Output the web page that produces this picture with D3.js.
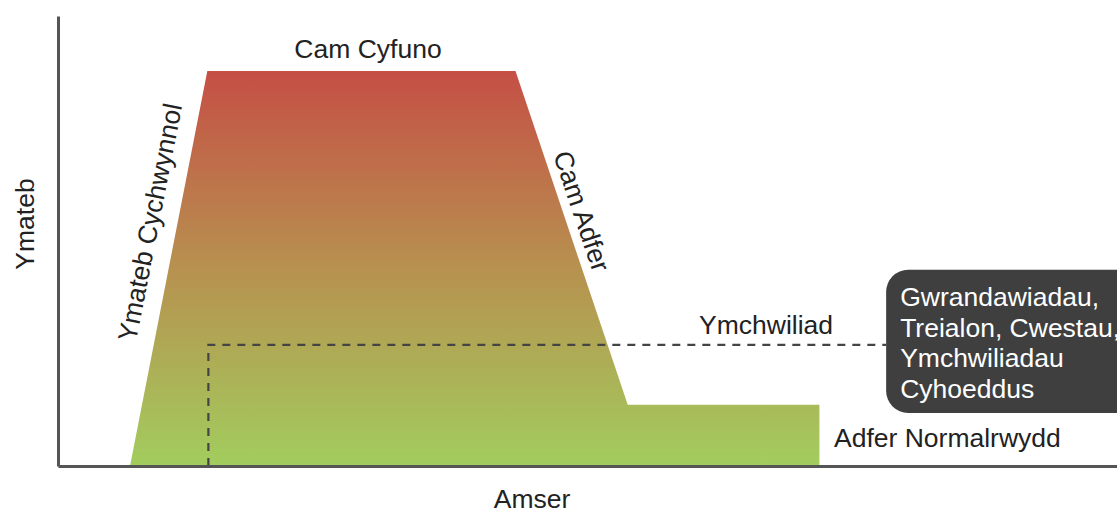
<!DOCTYPE html>
<html>
<head>
<meta charset="utf-8">
<script src="https://cdn.jsdelivr.net/npm/d3@7"></script>
<style>
  html, body { margin: 0; padding: 0; background: #fff; }
  svg { display: block; font-family: "Liberation Sans", Arial, sans-serif; }
</style>
</head>
<body>
<svg id="chart" width="1117" height="513"></svg>
<script>
// ---- data ----
const phaseX = [6.8, 14.1, 43.2, 53.8, 71.9, 71.9];      // time units
const phaseY = [0, 87.8, 87.8, 13.6, 13.6, 0];          // response level
const investigationX = [14.2, 14.2, 78.2];
const investigationY = [0, 26.9, 26.9];
const noteBox = { x0: 78.2, x1: 103, y0: 11.8, y1: 43.6 };
const noteLines = ["Gwrandawiadau,", "Treialon, Cwestau,", "Ymchwiliadau", "Cyhoeddus"];
const labels = {
  xAxis: "Amser", yAxis: "Ymateb",
  initial: "Ymateb Cychwynnol", merge: "Cam Cyfuno", recovery: "Cam Adfer",
  investigation: "Ymchwiliad", normal: "Adfer Normalrwydd"
};

// ---- layout ----
const mLeft = 58, mRight = 1117, mTop = 16, mBottom = 466;
const x = d3.scaleLinear().domain([0, 100]).range([mLeft, mRight]);
const y = d3.scaleLinear().domain([0, 100]).range([mBottom, mTop]);
const svg = d3.select("#chart");
const FS = 26.5;

// gradient
const defs = svg.append("defs");
const grad = defs.append("linearGradient").attr("id", "g")
  .attr("gradientUnits", "userSpaceOnUse")
  .attr("x1", 0).attr("x2", 0).attr("y1", y(87.8)).attr("y2", y(0));
grad.append("stop").attr("offset", "0%").attr("stop-color", "#c54f45");
grad.append("stop").attr("offset", "50%").attr("stop-color", "#b7914f");
grad.append("stop").attr("offset", "100%").attr("stop-color", "#a2cd5e");

const pts = phaseX.map((v, i) => [v, phaseY[i]]);
const line = d3.line().x(d => x(d[0])).y(d => y(d[1]));
svg.append("path").attr("d", line(pts) + "Z").attr("fill", "url(#g)");

// dashed investigation line
const inv = investigationX.map((v, i) => [v, investigationY[i]]);
svg.append("path").attr("d", line(inv)).attr("fill", "none")
  .attr("stroke", "#444").attr("stroke-width", 2.2).attr("stroke-dasharray", "8,7");

// axes
const xAxis = d3.axisBottom(x).tickValues([]).tickSizeOuter(0);
const yAxis = d3.axisLeft(y).tickValues([]).tickSizeOuter(0);
svg.append("g").attr("transform", `translate(0,${mBottom})`).call(xAxis)
  .select(".domain").attr("stroke", "#555").attr("stroke-width", 3);
svg.append("g").attr("transform", `translate(${mLeft},0)`).call(yAxis)
  .select(".domain").attr("stroke", "#555").attr("stroke-width", 3);

// note box
svg.append("rect")
  .attr("x", x(noteBox.x0)).attr("y", y(noteBox.y1))
  .attr("width", x(noteBox.x1) - x(noteBox.x0)).attr("height", y(noteBox.y0) - y(noteBox.y1))
  .attr("rx", 22).attr("fill", "#3f3f3f");
const nt = svg.append("text").attr("fill", "#fff").attr("font-size", FS);
noteLines.forEach((t, i) => {
  nt.append("tspan").attr("x", x(noteBox.x0) + 14).attr("y", 306 + i * 30.5).text(t);
});

// labels
const txt = (s, px, py, opts = {}) => svg.append("text")
  .attr("transform", `translate(${px},${py}) rotate(${opts.rot || 0})`)
  .attr("text-anchor", opts.anchor || "middle")
  .attr("font-size", FS).attr("fill", "#222").text(s);

txt(labels.merge, 368, 58);
txt(labels.xAxis, 532, 508);
txt(labels.yAxis, 34, 224, { rot: -90 });
txt(labels.investigation, 766, 334);
txt(labels.normal, 834, 447, { anchor: "start" });
// along slopes
const a1 = Math.atan2(y(0) - y(87.8), x(14.1) - x(6.8)) * 180 / Math.PI;
txt(labels.initial, 159, 224, { rot: -a1 });
const a2 = Math.atan2(y(13.6) - y(87.8), x(53.8) - x(43.2)) * 180 / Math.PI;
txt(labels.recovery, 573, 214, { rot: a2 });
</script>
</body>
</html>
